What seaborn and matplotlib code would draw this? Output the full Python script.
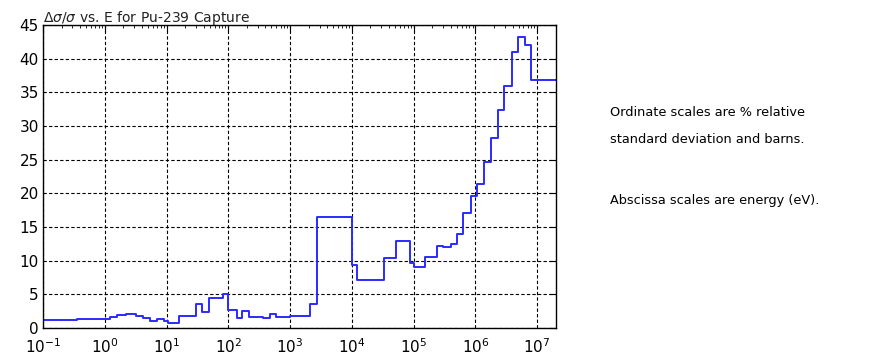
import matplotlib
matplotlib.use("Agg")
import matplotlib.pyplot as plt
import matplotlib.ticker as mticker
import seaborn as sns
import pandas as pd
import numpy as np

# Group lower energy bounds (eV) and relative std. dev. (%)
energy = [0.1, 0.35, 1.2, 1.6, 2.2, 3.2, 4.2, 5.5, 7.0, 9.0, 10.5, 16, 30, 37, 49, 81,
          100, 138, 165, 220, 360, 470, 600, 1000, 2100, 2700, 10000, 12000, 33000,
          52000, 86000, 100000, 150000, 240000, 300000, 400000, 500000, 630000,
          850000, 1050000, 1400000, 1800000, 2300000, 2900000, 3900000, 4900000,
          6300000, 8000000, 2.0e7]
rel_sd = [1.2, 1.3, 1.6, 1.9, 2.0, 1.8, 1.4, 1.0, 1.3, 1.0, 0.7, 1.7, 3.6, 2.4, 4.4, 5.1,
          2.6, 1.4, 2.5, 1.6, 1.4, 2.1, 1.6, 1.7, 3.5, 16.5, 9.3, 7.1, 10.4,
          12.9, 9.6, 9.1, 10.6, 12.2, 12.0, 12.5, 14.0, 17.0,
          19.6, 21.4, 24.7, 28.2, 32.4, 36.0, 41.0, 43.2,
          42.0, 36.8, 36.8]
xtick_vals = [1e-1, 1e0, 1e1, 1e2, 1e3, 1e4, 1e5, 1e6, 1e7]
xtick_labels = [r"$10^{-1}$", r"$10^{0}$", r"$10^{1}$", r"$10^{2}$", r"$10^{3}$",
                r"$10^{4}$", r"$10^{5}$", r"$10^{6}$", r"$10^{7}$"]
ytick_vals = [0, 5, 10, 15, 20, 25, 30, 35, 40, 45]

df = pd.DataFrame({"E": energy, "sd": rel_sd})

sns.set_style("white")
plt.rcParams["font.family"] = ["DejaVu Sans"]

fig = plt.figure(figsize=(8.95, 3.56), dpi=100)
ax = fig.add_axes([0.048, 0.079, 0.573, 0.851])

sns.lineplot(data=df, x="E", y="sd", ax=ax, drawstyle="steps-post",
             color="#2a2aff", linewidth=1.4, estimator=None, sort=False)

ax.set_xscale("log")
ax.set_xticks(xtick_vals)
ax.set_xticklabels(xtick_labels, fontsize=11)
ax.set_yticks(ytick_vals)
ax.set_xlim(1e-1, 2e7)
ax.set_ylim(0, 45)
ax.tick_params(axis="y", labelsize=11, pad=3)
ax.tick_params(axis="x", pad=7)
ax.xaxis.set_minor_locator(mticker.LogLocator(base=10, subs=np.arange(2, 10)))
ax.xaxis.set_minor_formatter(mticker.NullFormatter())
ax.tick_params(which="both", direction="in", top=True, right=True, colors="black")
ax.tick_params(which="major", length=4)
ax.tick_params(which="minor", length=2)
ax.set_xlabel("")
ax.set_ylabel("")
ax.grid(True, which="major", color="black", linestyle=(0, (3, 2)), linewidth=0.8)
for s in ax.spines.values():
    s.set_color("black")
    s.set_linewidth(1.0)

ax.set_title(r"$\Delta\sigma/\sigma$ vs. E for Pu-239 Capture", loc="left",
             fontsize=10, pad=2, color="#222222")

fig.text(0.682, 0.675, "Ordinate scales are % relative", fontsize=9.3, color="black")
fig.text(0.682, 0.597, "standard deviation and barns.", fontsize=9.3, color="black")
fig.text(0.682, 0.427, "Abscissa scales are energy (eV).", fontsize=9.3, color="black")

fig.savefig("out.png", dpi=100)
